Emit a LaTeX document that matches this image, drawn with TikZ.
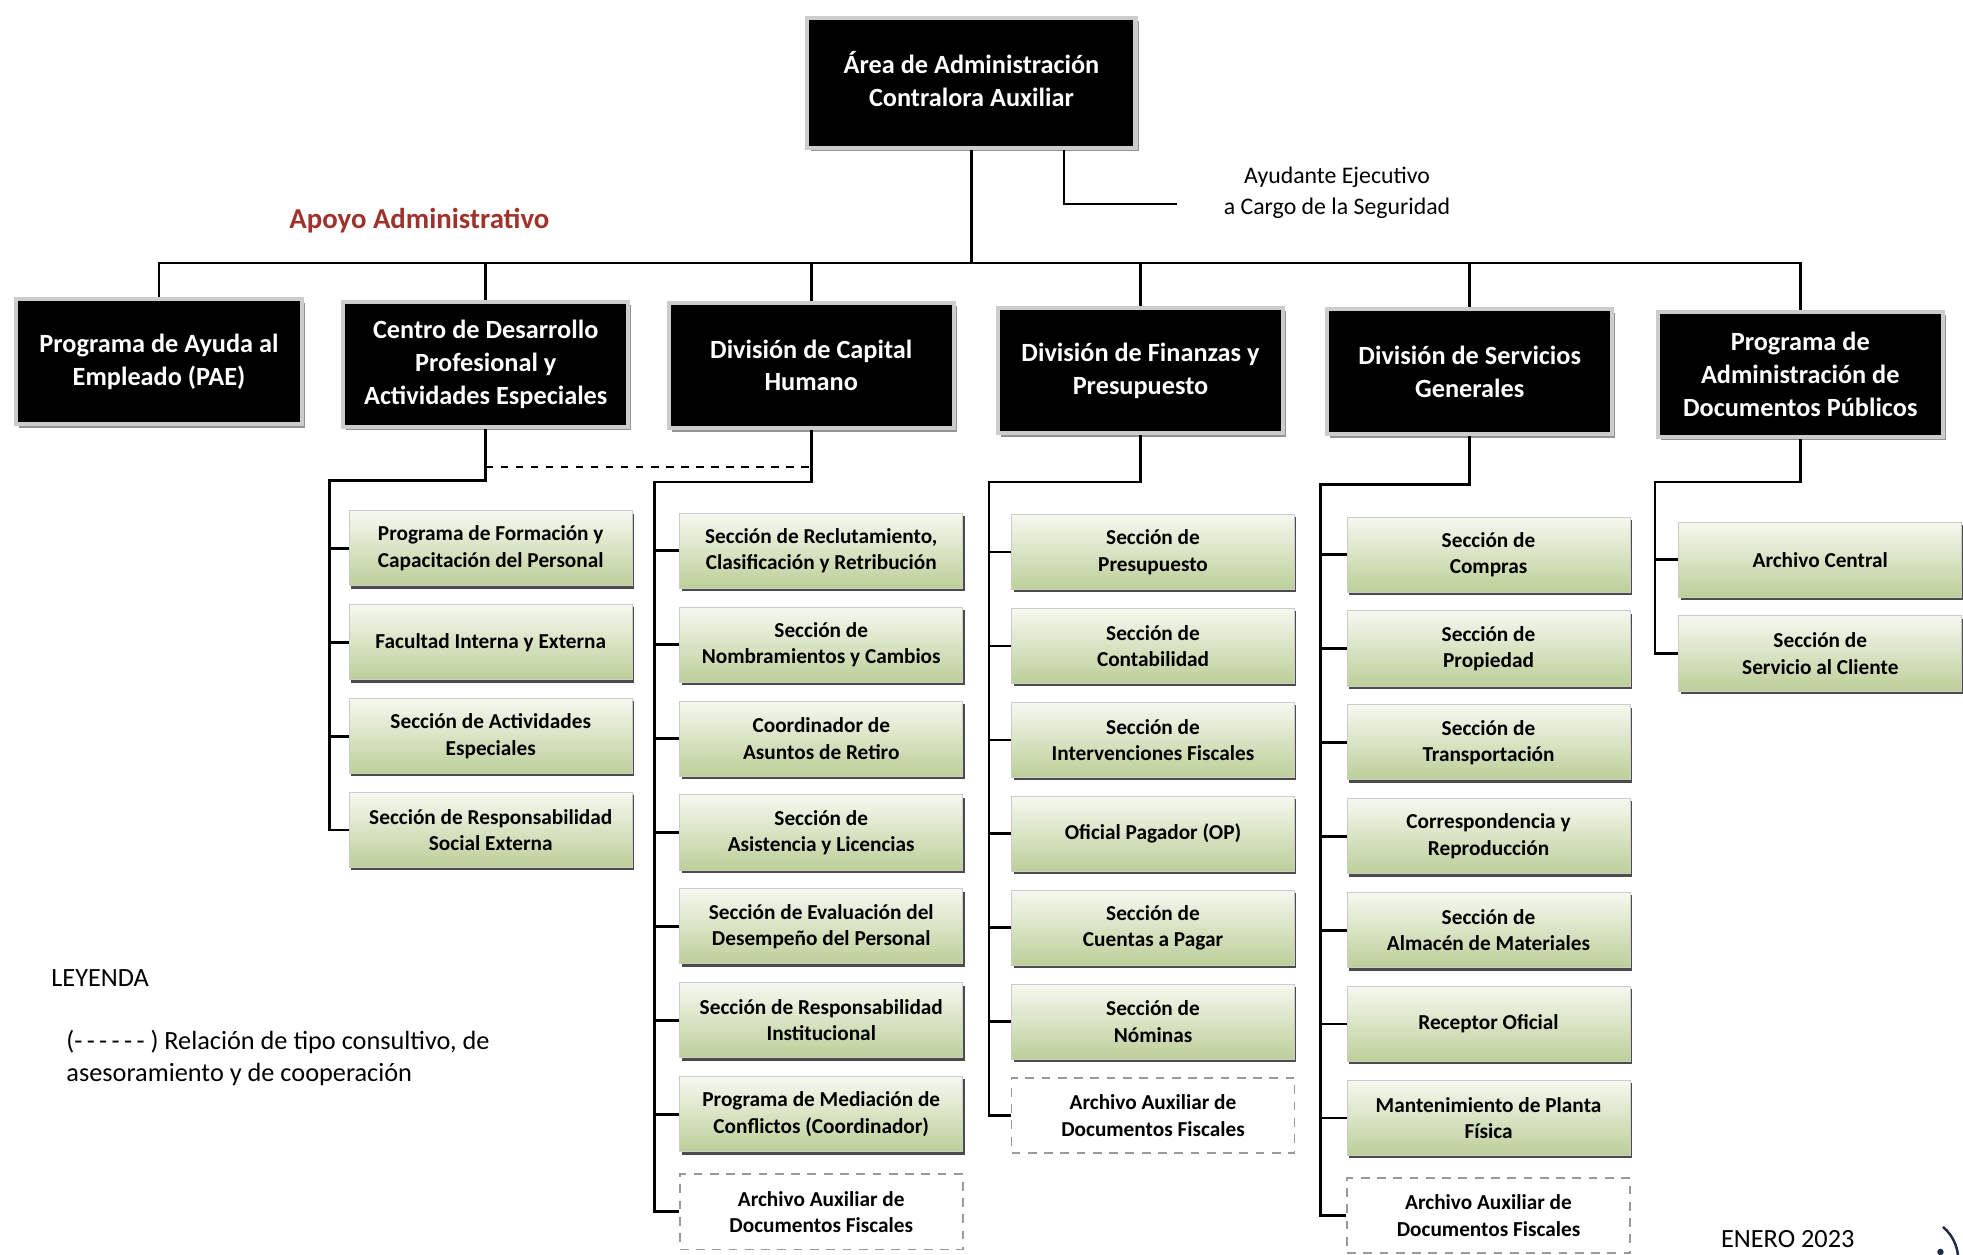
\documentclass[tikz,border=0pt]{standalone}
\usepackage{fontspec}
\setmainfont{Carlito}
\usetikzlibrary{shadows}

\definecolor{apoyored}{HTML}{A0322C}
\definecolor{secTop}{HTML}{F6F8F0}
\definecolor{secBot}{HTML}{BCCF98}
\definecolor{auxgray}{HTML}{9A9A9A}
\definecolor{sealblue}{HTML}{1F2D4A}

\tikzset{
  divbox/.style={fill=black, text=white, draw=gray!40, line width=1.6pt, align=center,
    font=\fontsize{10.5}{13}\selectfont\bfseries, minimum width=114pt, minimum height=50pt, inner sep=2pt,
    drop shadow={shadow xshift=1.2pt, shadow yshift=-1.4pt, fill=gray!85, opacity=1}},
  topbox/.style={divbox, minimum width=131pt, minimum height=52pt},
  secbox/.style={top color=secTop, bottom color=secBot, draw=gray!40, line width=0.4pt, align=center,
    font=\fontsize{8.5}{10.5}\selectfont\bfseries, minimum width=113pt, minimum height=30pt, inner sep=1pt,
    drop shadow={shadow xshift=0.8pt, shadow yshift=-1.1pt, fill=black!70, opacity=1}},
  auxbox/.style={fill=white, draw=auxgray, dash pattern=on 3.5pt off 3pt, line width=0.7pt, align=center,
    font=\fontsize{8.5}{10.5}\selectfont\bfseries, minimum width=113pt, minimum height=30pt, inner sep=1pt},
  conn/.style={line width=1.1pt, black},
  thinconn/.style={line width=0.7pt, black},
  plain/.style={font=\fontsize{10.5}{12.5}\selectfont}
}

\begin{document}
\begin{tikzpicture}[x=0.5pt, y=-0.5pt]
\useasboundingbox (0,0) rectangle (1568,1002);

% top of the chart
\node[topbox] (area) at (776,66) {Área de Administración\\Contralora Auxiliar\\[-10pt]};
\node[font=\fontsize{9.5}{12}\selectfont, align=center] (ayu) at (1068,154) {Ayudante Ejecutivo\\a Cargo de la Seguridad};
\coordinate (ayuend) at (940,163);
\draw[thinconn] ([xshift=37pt]area.south) |- (ayuend);
\node[font=\fontsize{11.5}{14}\selectfont\bfseries, text=apoyored] (apoyo) at (335,176) {Apoyo Administrativo};

% divisions
\node[divbox] (pae) at (127,289) {Programa de Ayuda al\\Empleado (PAE)};
\node[divbox] (cdp) at (388,291) {Centro de Desarrollo\\Profesional y\\Actividades Especiales};
\node[divbox] (dch) at (648,292) {División de Capital\\Humano};
\node[divbox] (dfp) at (911,296) {División de Finanzas y\\Presupuesto};
\node[divbox] (dsg) at (1174,297) {División de Servicios\\Generales};
\node[divbox] (pad) at (1438,299) {Programa de\\Administración de\\Documentos Públicos};

\coordinate (bus) at (776,210);
\draw[conn] (area.south) -- (bus);
\draw[conn] (bus) -| (pae.north);
\draw[conn] (bus) -| (cdp.north);
\draw[conn] (bus) -| (dch.north);
\draw[conn] (bus) -| (dfp.north);
\draw[conn] (bus) -| (dsg.north);
\draw[conn] (bus) -| (pad.north);

% Centro de Desarrollo
\node[secbox] (cdp1) at (392,438) {Programa de Formación y\\Capacitación del Personal};
\node[secbox] (cdp2) at (392,513) {Facultad Interna y Externa};
\node[secbox] (cdp3) at (392,588) {Sección de Actividades\\Especiales};
\node[secbox] (cdp4) at (392,663) {Sección de Responsabilidad\\Social Externa};
\coordinate (cdpx) at (263,384);
\draw[conn] (cdp.south) |- (cdpx) |- (cdp4.west);
\draw[conn] (cdp1.west) -- (cdp1.west -| cdpx);
\draw[conn] (cdp2.west) -- (cdp2.west -| cdpx);
\draw[conn] (cdp3.west) -- (cdp3.west -| cdpx);

% Capital Humano
\node[secbox] (dch1) at (656,440) {Sección de Reclutamiento,\\Clasificación y Retribución};
\node[secbox] (dch2) at (656,515) {Sección de\\Nombramientos y Cambios};
\node[secbox] (dch3) at (656,590) {Coordinador de\\Asuntos de Retiro};
\node[secbox] (dch4) at (656,665) {Sección de\\Asistencia y Licencias};
\node[secbox] (dch5) at (656,740) {Sección de Evaluación del\\Desempeño del Personal};
\node[secbox] (dch6) at (656,815) {Sección de Responsabilidad\\Institucional};
\node[secbox] (dch7) at (656,890) {Programa de Mediación de\\Conflictos (Coordinador)};
\node[auxbox] (dch8) at (656,968) {Archivo Auxiliar de\\Documentos Fiscales};
\coordinate (dchx) at (523,385);
\draw[conn] (dch.south) |- (dchx) |- (dch8.west);
\draw[conn] (dch1.west) -- (dch1.west -| dchx);
\draw[conn] (dch2.west) -- (dch2.west -| dchx);
\draw[conn] (dch3.west) -- (dch3.west -| dchx);
\draw[conn] (dch4.west) -- (dch4.west -| dchx);
\draw[conn] (dch5.west) -- (dch5.west -| dchx);
\draw[conn] (dch6.west) -- (dch6.west -| dchx);
\draw[conn] (dch7.west) -- (dch7.west -| dchx);

% consultive relation
\coordinate (dashy) at (0,373);
\draw[conn, dashed, line width=0.9pt] (cdp.south |- dashy) -- (dch.south |- dashy);

% Finanzas y Presupuesto
\node[secbox] (dfp1) at (921,441) {Sección de\\Presupuesto};
\node[secbox] (dfp2) at (921,516) {Sección de\\Contabilidad};
\node[secbox] (dfp3) at (921,591) {Sección de\\Intervenciones Fiscales};
\node[secbox] (dfp4) at (921,666) {Oficial Pagador (OP)};
\node[secbox] (dfp5) at (921,741) {Sección de\\Cuentas a Pagar};
\node[secbox] (dfp6) at (921,816) {Sección de\\Nóminas};
\node[auxbox] (dfp7) at (921,891) {Archivo Auxiliar de\\Documentos Fiscales};
\coordinate (dfpx) at (790,385);
\draw[conn] (dfp.south) |- (dfpx) |- (dfp7.west);
\draw[conn] (dfp1.west) -- (dfp1.west -| dfpx);
\draw[conn] (dfp2.west) -- (dfp2.west -| dfpx);
\draw[conn] (dfp3.west) -- (dfp3.west -| dfpx);
\draw[conn] (dfp4.west) -- (dfp4.west -| dfpx);
\draw[conn] (dfp5.west) -- (dfp5.west -| dfpx);
\draw[conn] (dfp6.west) -- (dfp6.west -| dfpx);

% Servicios Generales
\node[secbox] (dsg1) at (1189,443) {Sección de\\Compras};
\node[secbox] (dsg2) at (1189,518) {Sección de\\Propiedad};
\node[secbox] (dsg3) at (1189,593) {Sección de\\Transportación};
\node[secbox] (dsg4) at (1189,668) {Correspondencia y\\Reproducción};
\node[secbox] (dsg5) at (1189,743) {Sección de\\Almacén de Materiales};
\node[secbox] (dsg6) at (1189,818) {Receptor Oficial};
\node[secbox] (dsg7) at (1189,893) {Mantenimiento de Planta\\Física};
\node[auxbox] (dsg8) at (1189,971) {Archivo Auxiliar de\\Documentos Fiscales};
\coordinate (dsgx) at (1055,387);
\draw[conn] (dsg.south) |- (dsgx) |- (dsg8.west);
\draw[conn] (dsg1.west) -- (dsg1.west -| dsgx);
\draw[conn] (dsg2.west) -- (dsg2.west -| dsgx);
\draw[conn] (dsg3.west) -- (dsg3.west -| dsgx);
\draw[conn] (dsg4.west) -- (dsg4.west -| dsgx);
\draw[conn] (dsg5.west) -- (dsg5.west -| dsgx);
\draw[conn] (dsg6.west) -- (dsg6.west -| dsgx);
\draw[conn] (dsg7.west) -- (dsg7.west -| dsgx);

% Documentos Publicos
\node[secbox] (pad1) at (1454,447) {Archivo Central};
\node[secbox] (pad2) at (1454,522) {Sección de\\Servicio al Cliente};
\coordinate (padx) at (1322,385);
\draw[conn] (pad.south) |- (padx) |- (pad2.west);
\draw[conn] (pad1.west) -- (pad1.west -| padx);

% legend and date
\node[plain, anchor=west] (ley) at (34,781) {LEYENDA};
\node[plain, anchor=west, align=left] (leytxt) at (46,845) {(-\,-\,-\,-\,-\,- ) Relación de tipo consultivo, de\\asesoramiento y de cooperación};
\node[plain] (fecha) at (1428,990) {ENERO 2023};
\draw[sealblue, line width=1pt] (1552,980) arc[start angle=-50, end angle=10, radius=34];
\fill[sealblue] (1550,1000) circle[radius=1.3pt];
\end{tikzpicture}
\end{document}
